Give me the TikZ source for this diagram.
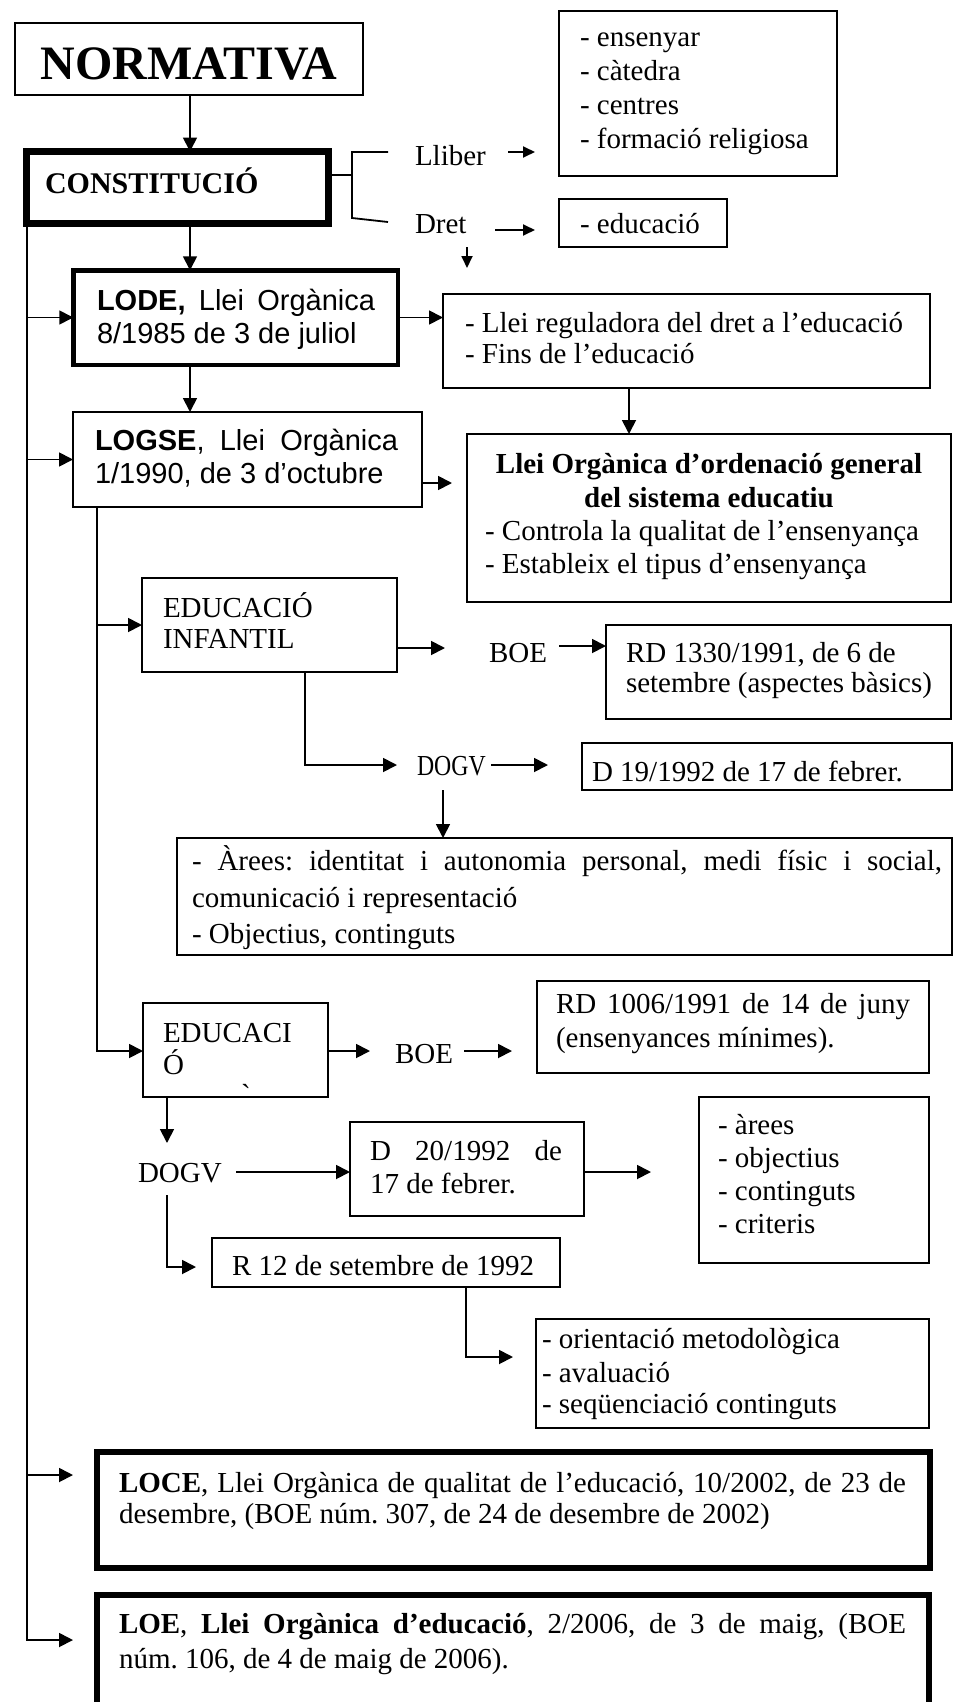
\documentclass[tikz,border=0pt]{standalone}
\usepackage{fontspec}
\setmainfont{Liberation Serif}
\newfontfamily\arialf{Liberation Sans}
\newfontfamily\rawf[Ligatures=TeXOff]{Liberation Serif}
\usetikzlibrary{arrows.meta,fit}
\newcommand\jline[2]{\makebox[#1][s]{#2}}
\begin{document}
\frenchspacing
\begin{tikzpicture}[x=1pt,y=-1pt,
  box/.style={draw, line width=1.8pt, inner sep=0pt, outer sep=0pt},
  tx/.style={anchor=base west, inner sep=0pt, outer sep=0pt, font=\fontsize{29}{33}\selectfont},
  ax/.style={tx, font=\arialf\fontsize{29}{33}\selectfont},
  ar/.style={line width=1.8pt, -{Triangle[length=14pt,width=14pt]}},
  sar/.style={line width=1.8pt, -{Triangle[length=12pt,width=11pt]}},
  ln/.style={line width=1.8pt},
]
\useasboundingbox (0,0) rectangle (953,1702);
\clip (0,0) rectangle (953,1702);

% ---------- top ----------
\node[box, fit={(15,23)(363,95)}] (normativa) {};
\node[anchor=base, inner sep=0pt, font=\fontsize{48}{48}\selectfont\bfseries] (tnorm) at (189,80) {NORMATIVA};

\node[box, line width=7pt, fit={(26.5,151.5)(328.5,223.5)}] (constitucio) {};
\node[tx, font=\fontsize{30}{33}\selectfont\bfseries] (tconst) at (45,193) {CONSTITUCIÓ};

\draw[ar] (normativa.south -| 190,0) -- (constitucio.north -| 190,0);

% bracket
\coordinate (bk) at (352,175);
\coordinate (bktop) at (388,152);
\coordinate (bkbot) at (388,222);
\draw[ln] (constitucio.east |- bk) -- (bk);
\draw[ln] (bktop) -- (352,152) -- (352,218) -- (bkbot);
\node[tx] (lliber) at (415,165) {Lliber};
\node[tx] (dret) at (415,233) {Dret};

\node[box, fit={(559,11)(837,176)}] (ensenyar) {};
\node[tx] (e1) at (580,47) {- ensenyar};
\node[tx] (e2) at (580,81) {- càtedra};
\node[tx] (e3) at (580,114) {- centres};
\node[tx] (e4) at (580,148) {- formació religiosa};

\node[box, fit={(559,199)(727,247)}] (educacio) {};
\node[tx] (ed1) at (580,233) {- educació};

\coordinate (lla) at (508,152);
\coordinate (llb) at (535,152);
\draw[sar] (lla) -- (llb);
\coordinate (dra) at (495,230);
\coordinate (drb) at (535,230);
\draw[sar] (dra) -- (drb);
\coordinate (dda) at (467,247);
\coordinate (ddb) at (467,268);
\draw[sar] (dda) -- (ddb);

% ---------- LODE ----------
\node[box, line width=4.5pt, fit={(73.25,270.25)(397.75,364.75)}] (lode) {};
\node[ax] (lode1) at (97,310) {\jline{278pt}{\textbf{LODE,} Llei Orgànica}};
\node[ax] (lode2) at (97,343) {8/1985 de 3 de juliol};
\draw[ar] (constitucio.south -| 190,0) -- (lode.north -| 190,0);

\coordinate (mtop) at (27,227);
\draw[ar] (mtop |- lode.west) -- (lode.west);

\node[box, fit={(443,294)(930,388)}] (regul) {};
\node[tx] (r1) at (465,332) {- Llei reguladora del dret a l’educació};
\node[tx] (r2) at (465,363) {- Fins de l’educació};
\draw[ar] (lode.east) -- (regul.west |- lode.east);

% ---------- LOGSE ----------
\node[box, fit={(73,412)(422,507)}] (logse) {};
\node[ax] (logse1) at (95,450) {\jline{303pt}{\textbf{LOGSE}, Llei Orgànica}};
\node[ax] (logse2) at (95,483) {1/1990, de 3 d’octubre};
\draw[ar] (lode.south -| 190,0) -- (logse.north -| 190,0);
\draw[ar] (mtop |- logse.west) -- (logse.west);

\node[box, fit={(467,434)(951,602)}] (lleiorg) {};
\node[anchor=base, inner sep=0pt, font=\fontsize{29}{33}\selectfont\bfseries] (lo1) at (709,473) {Llei Orgànica d’ordenació general};
\node[anchor=base, inner sep=0pt, font=\fontsize{29}{33}\selectfont\bfseries] (lo2) at (709,507) {del sistema educatiu};
\node[tx] (lo3) at (485,540) {- Controla la qualitat de l’ensenyança};
\node[tx] (lo4) at (485,573) {- Estableix el tipus d’ensenyança};
\coordinate (lgarr) at (452,483);
\draw[ar] (logse.east |- lgarr) -- (lgarr);
\draw[ar] (regul.south -| 629,0) -- (lleiorg.north -| 629,0);

% ---------- EDUCACIO INFANTIL ----------
\node[box, fit={(142,578)(397,672)}] (ei) {};
\node[tx] (ei1) at (163,617) {EDUCACIÓ};
\node[tx] (ei2) at (163,648) {INFANTIL};
\draw[ar] (97,625) -- (ei.west |- 0,625);

\coordinate (boe1a) at (445,648);
\draw[ar] (ei.east |- boe1a) -- (boe1a);
\node[tx] (boe1) at (489,662) {BOE};
\node[box, fit={(606,625)(951,719)}] (rd1330) {};
\node[tx] (rd1) at (626,662) {RD 1330/1991, de 6 de};
\node[tx] (rd2) at (626,692) {setembre (aspectes bàsics)};
\draw[ar] (559,646) -- (rd1330.west |- 0,646);

\coordinate (dogv1a) at (397,765);
\draw[ar] (ei.south -| 305,0) |- (dogv1a);
\node[tx] (dogv1) at (417,775) {\scalebox{0.82}[1]{DOGV}};
\node[box, fit={(582,743)(952,790)}] (d19) {};
\node[tx] (d19t) at (592,781) {D 19/1992 de 17 de febrer.};
\coordinate (dogv1b) at (548,765);
\draw[ar] (491,765) -- (dogv1b);

\node[box, fit={(177,838)(952,955)}] (arees) {};
\node[tx] (a1) at (192,870) {\jline{750pt}{- Àrees: identitat i autonomia personal, medi físic i social,}};
\node[tx] (a2) at (192,907) {comunicació i representació};
\node[tx] (a3) at (192,943) {- Objectius, continguts};
\draw[ar] (443,790) -- (arees.north -| 443,0);

% ---------- EDUCACIO (primaria) ----------
\node[box, fit={(143,1003)(328,1097)}] (edu2) {};
\node[tx] (ed2a) at (163,1042) {EDUCACI};
\node[tx] (ed2b) at (163,1074) {Ó};
\node[tx] (ed2c) at (241,1104) {\rawf `};
\draw[ar] (logse.south -| 97,0) |- (edu2.west |- 0,1051);

\coordinate (boe2a) at (370,1051);
\draw[ar] (edu2.east |- boe2a) -- (boe2a);
\node[tx] (boe2) at (395,1063) {BOE};
\coordinate (boe2b) at (512,1051);
\draw[ar] (464,1051) -- (boe2b);
\node[box, fit={(537,981)(929,1073)}] (rd1006) {};
\node[tx] (rd3) at (556,1013) {\jline{354pt}{RD 1006/1991 de 14 de juny}};
\node[tx] (rd4) at (556,1047) {(ensenyances mínimes).};

\coordinate (dogv2a) at (167,1143);
\draw[ar] (edu2.south -| dogv2a) -- (dogv2a);
\node[tx] (dogv2) at (138,1182) {DOGV};
\node[box, fit={(350,1122)(584,1216)}] (d20) {};
\node[tx] (d20a) at (370,1160) {\jline{192pt}{D 20/1992 de}};
\node[tx] (d20b) at (370,1193) {17 de febrer.};
\draw[ar] (236,1172) -- (d20.west |- 0,1172);

\node[box, fit={(699,1097)(929,1263)}] (arees2) {};
\node[tx] (b1) at (718,1134) {- àrees};
\node[tx] (b2) at (718,1167) {- objectius};
\node[tx] (b3) at (718,1200) {- continguts};
\node[tx] (b4) at (718,1233) {- criteris};
\coordinate (d20arr) at (651,1172);
\draw[ar] (d20.east |- d20arr) -- (d20arr);

\node[box, fit={(212,1238)(560,1287)}] (r12) {};
\node[tx] (r12t) at (232,1275) {R 12 de setembre de 1992};
\coordinate (r12arr) at (196,1267);
\draw[ar] (167,1195) |- (r12arr);

\node[box, fit={(536,1319)(929,1428)}] (orient) {};
\node[tx] (o1) at (542,1348) {- orientació metodològica};
\node[tx] (o2) at (542,1382) {- avaluació};
\node[tx] (o3) at (542,1413) {- seqüenciació continguts};
\coordinate (orarr) at (513,1357);
\draw[ar] (r12.south -| 466,0) |- (orarr);

% ---------- LOCE / LOE ----------
\node[box, line width=6pt, fit={(97,1452)(930,1568)}] (loce) {};
\node[tx] (loce1) at (119,1492) {\jline{787pt}{\textbf{LOCE}, Llei Orgànica de qualitat de l’educació, 10/2002, de 23 de}};
\node[tx] (loce2) at (119,1523) {desembre, (BOE núm. 307, de 24 de desembre de 2002)};
\coordinate (locearr) at (73,1475);
\draw[ar] (mtop |- locearr) -- (locearr);

\node[box, line width=6pt, fit={(97,1595)(929,1725)}] (loe) {};
\node[tx] (loe1) at (119,1633) {\jline{787pt}{\textbf{LOE}, \textbf{Llei Orgànica d’educació}, 2/2006, de 3 de maig, (BOE}};
\node[tx] (loe2) at (119,1668) {núm. 106, de 4 de maig de 2006).};
\coordinate (loearr) at (73,1640);
\draw[ar] (mtop) |- (loearr);
\end{tikzpicture}
\end{document}
